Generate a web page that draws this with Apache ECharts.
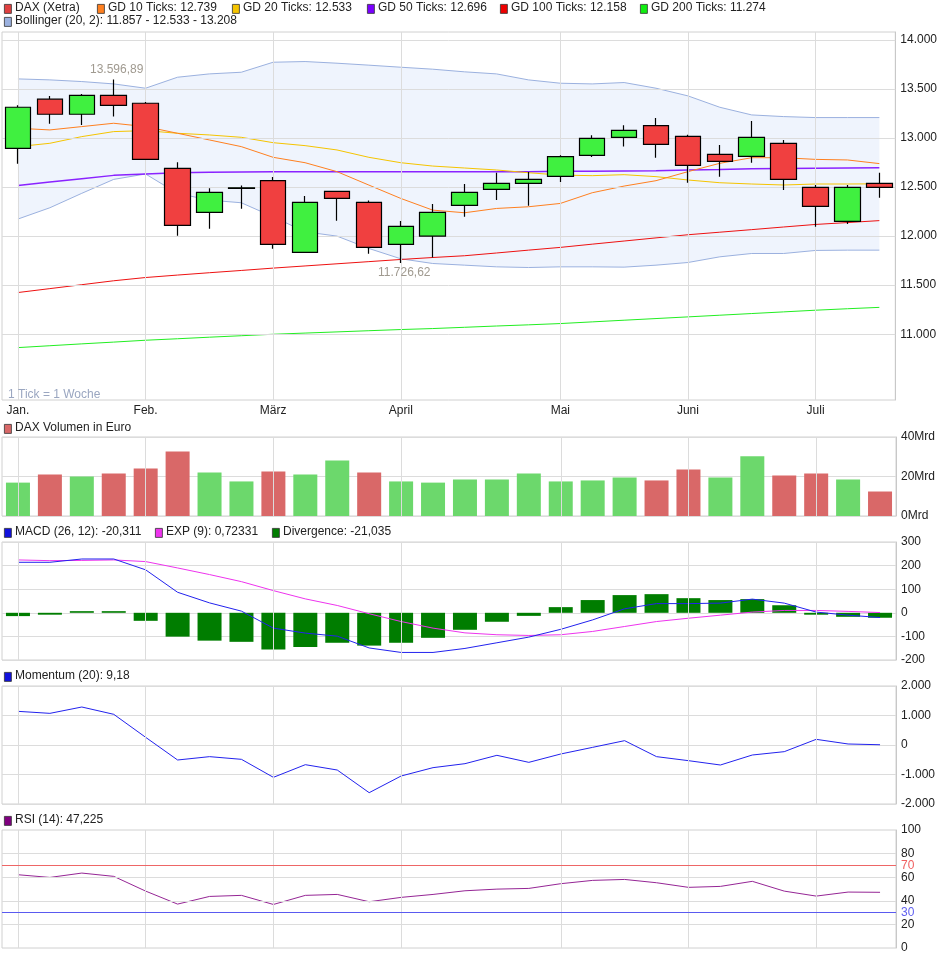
<!DOCTYPE html>
<html>
<head>
<meta charset="utf-8">
<script src="https://cdn.jsdelivr.net/npm/echarts@6/dist/echarts.min.js"></script>
<style>
  html, body { margin: 0; padding: 0; background: #fff; }
  #main { width: 940px; height: 958px; }
</style>
</head>
<body>
<div id="main"></div>
<script>
// Wochen-Kerzen, 28 Ticks (1 Tick = 1 Woche)
var monthLabels = ['Jan.', '', '', '', 'Feb.', '', '', '', 'März', '', '', '', 'April', '', '', '', '', 'Mai', '', '', '', 'Juni', '', '', '', 'Juli', '', ''];
var monthIdx = [0, 4, 8, 12, 17, 21, 25];

// [open, close, low, high]
var candles = [
  [12895, 13313, 12738, 13333], [13395, 13242, 13146, 13429], [13242, 13435, 13133, 13449], [13435, 13333, 13218, 13597],
  [13354, 12782, 12782, 13367], [12691, 12109, 12004, 12752], [12242, 12446, 12075, 12487], [12487, 12493, 12279, 12517],
  [12565, 11915, 11871, 12602], [11834, 12344, 11834, 12408], [12456, 12385, 12157, 12456], [12344, 11885, 11820, 12364],
  [11915, 12099, 11727, 12153], [12000, 12242, 11783, 12327], [12313, 12446, 12197, 12531], [12476, 12538, 12367, 12646],
  [12538, 12578, 12310, 12653], [12609, 12810, 12551, 12823], [12823, 12997, 12806, 13027], [13007, 13078, 12912, 13129],
  [13126, 12935, 12799, 13204], [13017, 12721, 12544, 13034], [12833, 12762, 12606, 12929], [12813, 13007, 12748, 13173],
  [12946, 12578, 12470, 12980], [12497, 12303, 12095, 12521], [12150, 12497, 12123, 12521], [12538, 12497, 12391, 12646]
];
var gd10 = [13099, 13082, 13116, 13150, 13116, 13048, 12980, 12912, 12803, 12748, 12657, 12520, 12384, 12265, 12238, 12282, 12299, 12333, 12442, 12510, 12565, 12657, 12742, 12799, 12799, 12782, 12776, 12739];
var gd20 = [12912, 12946, 13014, 13065, 13075, 13048, 13031, 13007, 12952, 12922, 12878, 12803, 12748, 12714, 12694, 12674, 12646, 12622, 12616, 12626, 12606, 12572, 12544, 12531, 12521, 12531, 12531, 12533];
var gd50 = [12517, 12551, 12585, 12619, 12633, 12646, 12650, 12653, 12657, 12657, 12657, 12657, 12657, 12657, 12657, 12657, 12657, 12660, 12662, 12664, 12666, 12674, 12680, 12687, 12690, 12692, 12694, 12696];
var gd100 = [11425, 11465, 11505, 11545, 11578, 11603, 11627, 11650, 11674, 11696, 11718, 11740, 11762, 11782, 11800, 11828, 11857, 11885, 11918, 11950, 11982, 12014, 12040, 12066, 12093, 12119, 12138, 12158];
var gd200 = [10864, 10883, 10902, 10920, 10939, 10954, 10970, 10985, 11000, 11012, 11024, 11036, 11048, 11058, 11071, 11084, 11096, 11109, 11126, 11143, 11160, 11177, 11194, 11211, 11228, 11245, 11260, 11274];
var bollUpper = [13602, 13592, 13575, 13551, 13507, 13619, 13653, 13670, 13772, 13779, 13762, 13742, 13721, 13701, 13674, 13653, 13592, 13558, 13551, 13565, 13507, 13429, 13313, 13235, 13218, 13208, 13208, 13208];
var bollLower = [12174, 12289, 12436, 12578, 12633, 12436, 12367, 12340, 12197, 12044, 12000, 11874, 11769, 11721, 11704, 11687, 11680, 11687, 11687, 11684, 11704, 11731, 11789, 11823, 11823, 11854, 11857, 11857];
var priceTicks = [11000, 11500, 12000, 12500, 13000, 13500, 14000];

// Volumen in Mrd Euro, 1 = gestiegen
var volume = [16.9, 21.0, 20.0, 21.5, 24.1, 32.7, 22.0, 17.5, 22.5, 21.0, 28.1, 22.0, 17.5, 16.9, 18.5, 18.5, 21.5, 17.5, 18.0, 19.5, 18.0, 23.6, 19.5, 30.2, 20.5, 21.5, 18.5, 12.4];
var volUp = [1, 0, 1, 0, 0, 0, 1, 1, 0, 1, 1, 0, 1, 1, 1, 1, 1, 1, 1, 1, 0, 0, 1, 1, 0, 0, 1, 0];

var macd = [214, 214, 228, 228, 182, 87, 42, 7, -65, -86, -99, -149, -168, -168, -151, -127, -103, -70, -30, 17, 39, 39, 41, 58, 41, 3, -10, -20];
var macdExp = [224, 221, 222, 224, 217, 190, 162, 132, 94, 59, 31, -4, -37, -65, -85, -93, -96, -93, -79, -58, -37, -23, -10, 3, 10, 10, 6, 1];
var divergence = [-14, -8, 7, 7, -34, -101, -118, -123, -156, -145, -127, -139, -127, -106, -72, -38, -13, 24, 54, 75, 79, 62, 54, 58, 32, -8, -17, -21];
var momentum = [1141, 1073, 1288, 1040, 260, -508, -395, -486, -1096, -667, -848, -1616, -1051, -768, -633, -350, -588, -305, -79, 147, -395, -531, -678, -339, -226, 192, 34, 9];
var rsi = [62.1, 59.8, 63.5, 60.7, 48.2, 37.2, 43.7, 44.6, 36.9, 44.6, 45.4, 39.2, 42.9, 45.4, 48.5, 49.9, 50.5, 54.5, 57.3, 58.1, 55.3, 51.4, 52.2, 56.5, 48.2, 44.0, 47.4, 47.2];

function fmt(v) {
  var s = String(Math.abs(v)).replace(/\B(?=(\d{3})+(?!\d))/g, '.');
  return (v < 0 ? '-' : '') + s;
}

var gridCol = '#dcdcdc';
var font = 'Liberation Sans, Arial, sans-serif';

function vLines() {
  return monthIdx.map(function (i) { return { xAxis: i }; });
}
function gridMark(hVals, color) {
  var d = hVals ? [] : vLines();
  (hVals || []).forEach(function (v) {
    d.push({ yAxis: v, lineStyle: { color: color || gridCol, width: 1, type: 'solid' } });
  });
  if (hVals && !color) d = d.concat(vLines());
  return {
    silent: true, symbol: 'none', label: { show: false },
    lineStyle: { color: color || gridCol, width: 1, type: 'solid', opacity: 1 },
    emphasis: { disabled: true },
    data: d
  };
}

var grids = [
  { left: 2, right: 44, top: 32, height: 368 },
  { left: 2, right: 44, top: 437, height: 79 },
  { left: 2, right: 44, top: 542, height: 118 },
  { left: 2, right: 44, top: 686, height: 118 },
  { left: 2, right: 44, top: 830, height: 118 }
].map(function (g) {
  g.show = true; g.borderColor = '#d0d0d0'; g.borderWidth = 1; g.backgroundColor = '#fff';
  return g;
});

var xAxes = grids.map(function (g, k) {
  return {
    type: 'category', gridIndex: k, data: monthLabels, boundaryGap: true,
    axisLine: { show: false }, axisTick: { show: false }, splitLine: { show: false },
    axisLabel: { show: k === 0, interval: 0, color: '#222', fontSize: 12, fontFamily: font, margin: 5 }
  };
});

var yLabel = { color: '#222', fontSize: 12, fontFamily: font, margin: 5 };
var yBase = { position: 'right', axisLine: { show: true, lineStyle: { color: '#c8c8c8' } }, axisTick: { show: false } };

var yAxes = [
  Object.assign({}, yBase, {
    type: 'value', gridIndex: 0, min: 10330, max: 14080, interval: 10, splitLine: { show: false },
    axisLabel: Object.assign({}, yLabel, { formatter: function (v) { return v % 500 === 0 && v >= 11000 ? fmt(v) : ''; } })
  }),
  Object.assign({}, yBase, {
    type: 'value', gridIndex: 1, min: 0, max: 40, interval: 20,
    splitLine: { lineStyle: { color: gridCol } },
    axisLabel: Object.assign({}, yLabel, { formatter: function (v) { return v + 'Mrd'; } })
  }),
  Object.assign({}, yBase, {
    type: 'value', gridIndex: 2, min: -200, max: 300, interval: 100,
    splitLine: { lineStyle: { color: gridCol } }, axisLabel: yLabel
  }),
  Object.assign({}, yBase, {
    type: 'value', gridIndex: 3, min: -2000, max: 2000, interval: 1000,
    splitLine: { lineStyle: { color: gridCol } },
    axisLabel: Object.assign({}, yLabel, { formatter: fmt })
  }),
  Object.assign({}, yBase, {
    type: 'value', gridIndex: 4, min: 0, max: 100, interval: 10, splitLine: { show: false },
    axisLabel: Object.assign({}, yLabel, {
      formatter: function (v) {
        if (v === 70) return '{r|70}';
        if (v === 30) return '{b|30}';
        return v % 20 === 0 ? String(v) : '';
      },
      rich: { r: { color: '#f06060', fontSize: 12, fontFamily: font }, b: { color: '#6060f0', fontSize: 12, fontFamily: font } }
    })
  })
];

function line(name, data, color, k, extra) {
  return Object.assign({
    name: name, type: 'line', xAxisIndex: k, yAxisIndex: k, data: data,
    symbol: 'none', smooth: false, lineStyle: { color: color, width: 1 }, itemStyle: { color: color },
    z: 4, silent: true
  }, extra || {});
}

var bandDiff = bollUpper.map(function (v, i) { return v - bollLower[i]; });
var empty = gd200.map(function () { return null; });

var series = [
  line('gridMain', empty, gridCol, 0, { z: 1, markLine: gridMark(priceTicks) }),
  line('bollLowerBase', bollLower, 'transparent', 0, { stack: 'boll', z: 1, lineStyle: { width: 0 } }),
  line('bollFill', bandDiff, 'transparent', 0, { stack: 'boll', z: 1, lineStyle: { width: 0 }, areaStyle: { color: 'rgba(214,226,250,0.55)' } }),
  line('Bollinger oben', bollUpper, '#9bb1df', 0, { z: 2 }),
  line('Bollinger unten', bollLower, '#9bb1df', 0, { z: 2 }),
  line('GD 200', gd200, '#22ee22', 0),
  line('GD 100', gd100, '#ee1111', 0),
  line('GD 50', gd50, '#8a22ff', 0, { lineStyle: { color: '#8a22ff', width: 1.5 } }),
  line('GD 20', gd20, '#f5c400', 0),
  line('GD 10', gd10, '#ff8020', 0),
  {
    name: 'DAX', type: 'candlestick', xAxisIndex: 0, yAxisIndex: 0, data: candles, barWidth: 26, z: 5,
    itemStyle: { color: '#40f040', color0: '#f04040', borderColor: '#000', borderColor0: '#000', borderWidth: 1.2 }
  },
  {
    name: 'Volumen', type: 'bar', xAxisIndex: 1, yAxisIndex: 1, barWidth: 24, z: 3,
    data: volume.map(function (v, i) { return { value: v, itemStyle: { color: volUp[i] ? '#6cd86c' : '#d96868' } }; }),
    markLine: gridMark()
  },
  {
    name: 'Divergence', type: 'bar', xAxisIndex: 2, yAxisIndex: 2, barWidth: 24, z: 3,
    data: divergence, itemStyle: { color: '#007d00' }, markLine: gridMark()
  },
  line('EXP', macdExp, '#ee33ee', 2),
  line('MACD', macd, '#2222ee', 2),
  line('Momentum', momentum, '#2222ee', 3, { markLine: gridMark() }),
  line('rsiGrid', empty, gridCol, 4, { z: 1, markLine: gridMark([20, 40, 60, 80]) }),
  line('rsi70', empty, '#ee6666', 4, { z: 2, markLine: gridMark([70], '#ee6666') }),
  line('rsi30', empty, '#5a5af0', 4, { z: 2, markLine: gridMark([30], '#5a5af0') }),
  line('RSI', rsi, '#952595', 4)
];

function legendItem(x, y, color, text) {
  return [
    { type: 'rect', left: x, top: y + 3, shape: { width: 7, height: 9 }, style: { fill: color, stroke: '#333', lineWidth: 0.8 }, z: 10 },
    { type: 'text', left: x + 11, top: y + 1, style: { text: text, fill: '#222', font: '12px ' + font }, z: 10 }
  ];
}

var graphics = [].concat(
  legendItem(4, 1, '#e04040', 'DAX (Xetra)'),
  legendItem(97, 1, '#ff8020', 'GD 10 Ticks: 12.739'),
  legendItem(232, 1, '#f5c400', 'GD 20 Ticks: 12.533'),
  legendItem(367, 1, '#7a00ff', 'GD 50 Ticks: 12.696'),
  legendItem(500, 1, '#ee0000', 'GD 100 Ticks: 12.158'),
  legendItem(640, 1, '#11ee11', 'GD 200 Ticks: 11.274'),
  legendItem(4, 14, '#9bb1df', 'Bollinger (20, 2): 11.857 - 12.533 - 13.208'),
  legendItem(4, 421, '#d96868', 'DAX Volumen in Euro'),
  legendItem(4, 525, '#1111dd', 'MACD (26, 12): -20,311'),
  legendItem(155, 525, '#ee33ee', 'EXP (9): 0,72331'),
  legendItem(272, 525, '#007d00', 'Divergence: -21,035'),
  legendItem(4, 669, '#1111dd', 'Momentum (20): 9,18'),
  legendItem(4, 813, '#800080', 'RSI (14): 47,225'),
  [
    { type: 'text', left: 90, top: 64, style: { text: '13.596,89', fill: '#a09a90', font: '12px ' + font }, z: 10 },
    { type: 'text', left: 378, top: 267, style: { text: '11.726,62', fill: '#a09a90', font: '12px ' + font }, z: 10 },
    { type: 'text', left: 8, top: 389, style: { text: '1 Tick = 1 Woche', fill: '#9aa6c0', font: '12px ' + font }, z: 10 }
  ]
);

var chart = echarts.init(document.getElementById('main'), null, { renderer: 'canvas' });
chart.setOption({
  animation: false,
  backgroundColor: '#fff',
  grid: grids,
  xAxis: xAxes,
  yAxis: yAxes,
  series: series,
  graphic: graphics
});
</script>
</body>
</html>
